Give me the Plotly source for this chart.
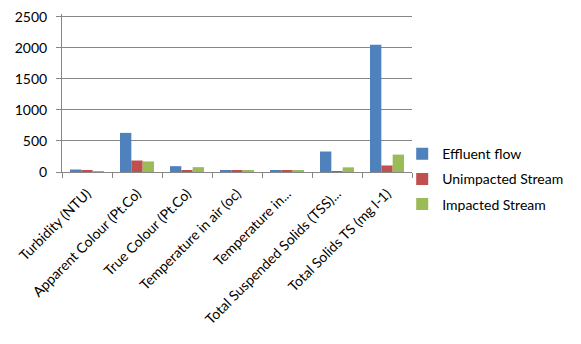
import plotly.graph_objects as go

categories = ["Turbidity (NTU)", "Apparent Colour (Pt.Co)", "True Colour (Pt.Co)",
              "Temperature in air (oc)", "Temperature in...", "Total Suspended Solids (TSS)...",
              "Total Solids TS (mg l-1)"]
effluent = [40, 630, 94, 25, 25, 330, 2050]
unimpacted = [20, 185, 25, 25, 25, 10, 105]
impacted = [5, 170, 78, 25, 25, 75, 280]
series_names = ["Effluent flow", "Unimpacted Stream", "Impacted Stream"]
colors = ["#4F81BD", "#C0504D", "#9BBB59"]
y_ticks = [0, 500, 1000, 1500, 2000, 2500]

fig = go.Figure()
for i, (name, vals) in enumerate(zip(series_names, [effluent, unimpacted, impacted])):
    fig.add_trace(go.Bar(x=categories, y=vals, name=name, marker_color=colors[i],
                         marker_line_width=0, legendgroup=str(i)))

font = dict(family="Lato, Open Sans, sans-serif", size=14, color="#000000")
fig.update_layout(
    width=581, height=344,
    margin=dict(l=62, r=150, t=14, b=172),
    paper_bgcolor="white", plot_bgcolor="white",
    font=font,
    barmode="group", bargap=0.32, bargroupgap=0,
    showlegend=True,
    legend=dict(x=0.972, y=-0.045, xanchor="left", yanchor="middle", font=font,
                tracegroupgap=4, bgcolor="rgba(0,0,0,0)", itemwidth=30),
    xaxis=dict(tickangle=-45, showline=True, linecolor="#868686", linewidth=1,
               ticks="outside", tickson="boundaries", ticklen=5, tickcolor="#868686",
               showgrid=False, tickfont=font, automargin=False, ticklabelstandoff=7),
    yaxis=dict(range=[0, 2545], tickvals=y_ticks, showline=True, linecolor="#868686",
               linewidth=1, ticks="outside", ticklen=5, tickcolor="#868686",
               showgrid=True, gridcolor="#868686", gridwidth=1, zeroline=False,
               tickfont=font, automargin=False, ticklabelstandoff=6),
)
fig.write_html("out.html", config={"displayModeBar": False},
               post_script="document.body.style.margin='0';")
